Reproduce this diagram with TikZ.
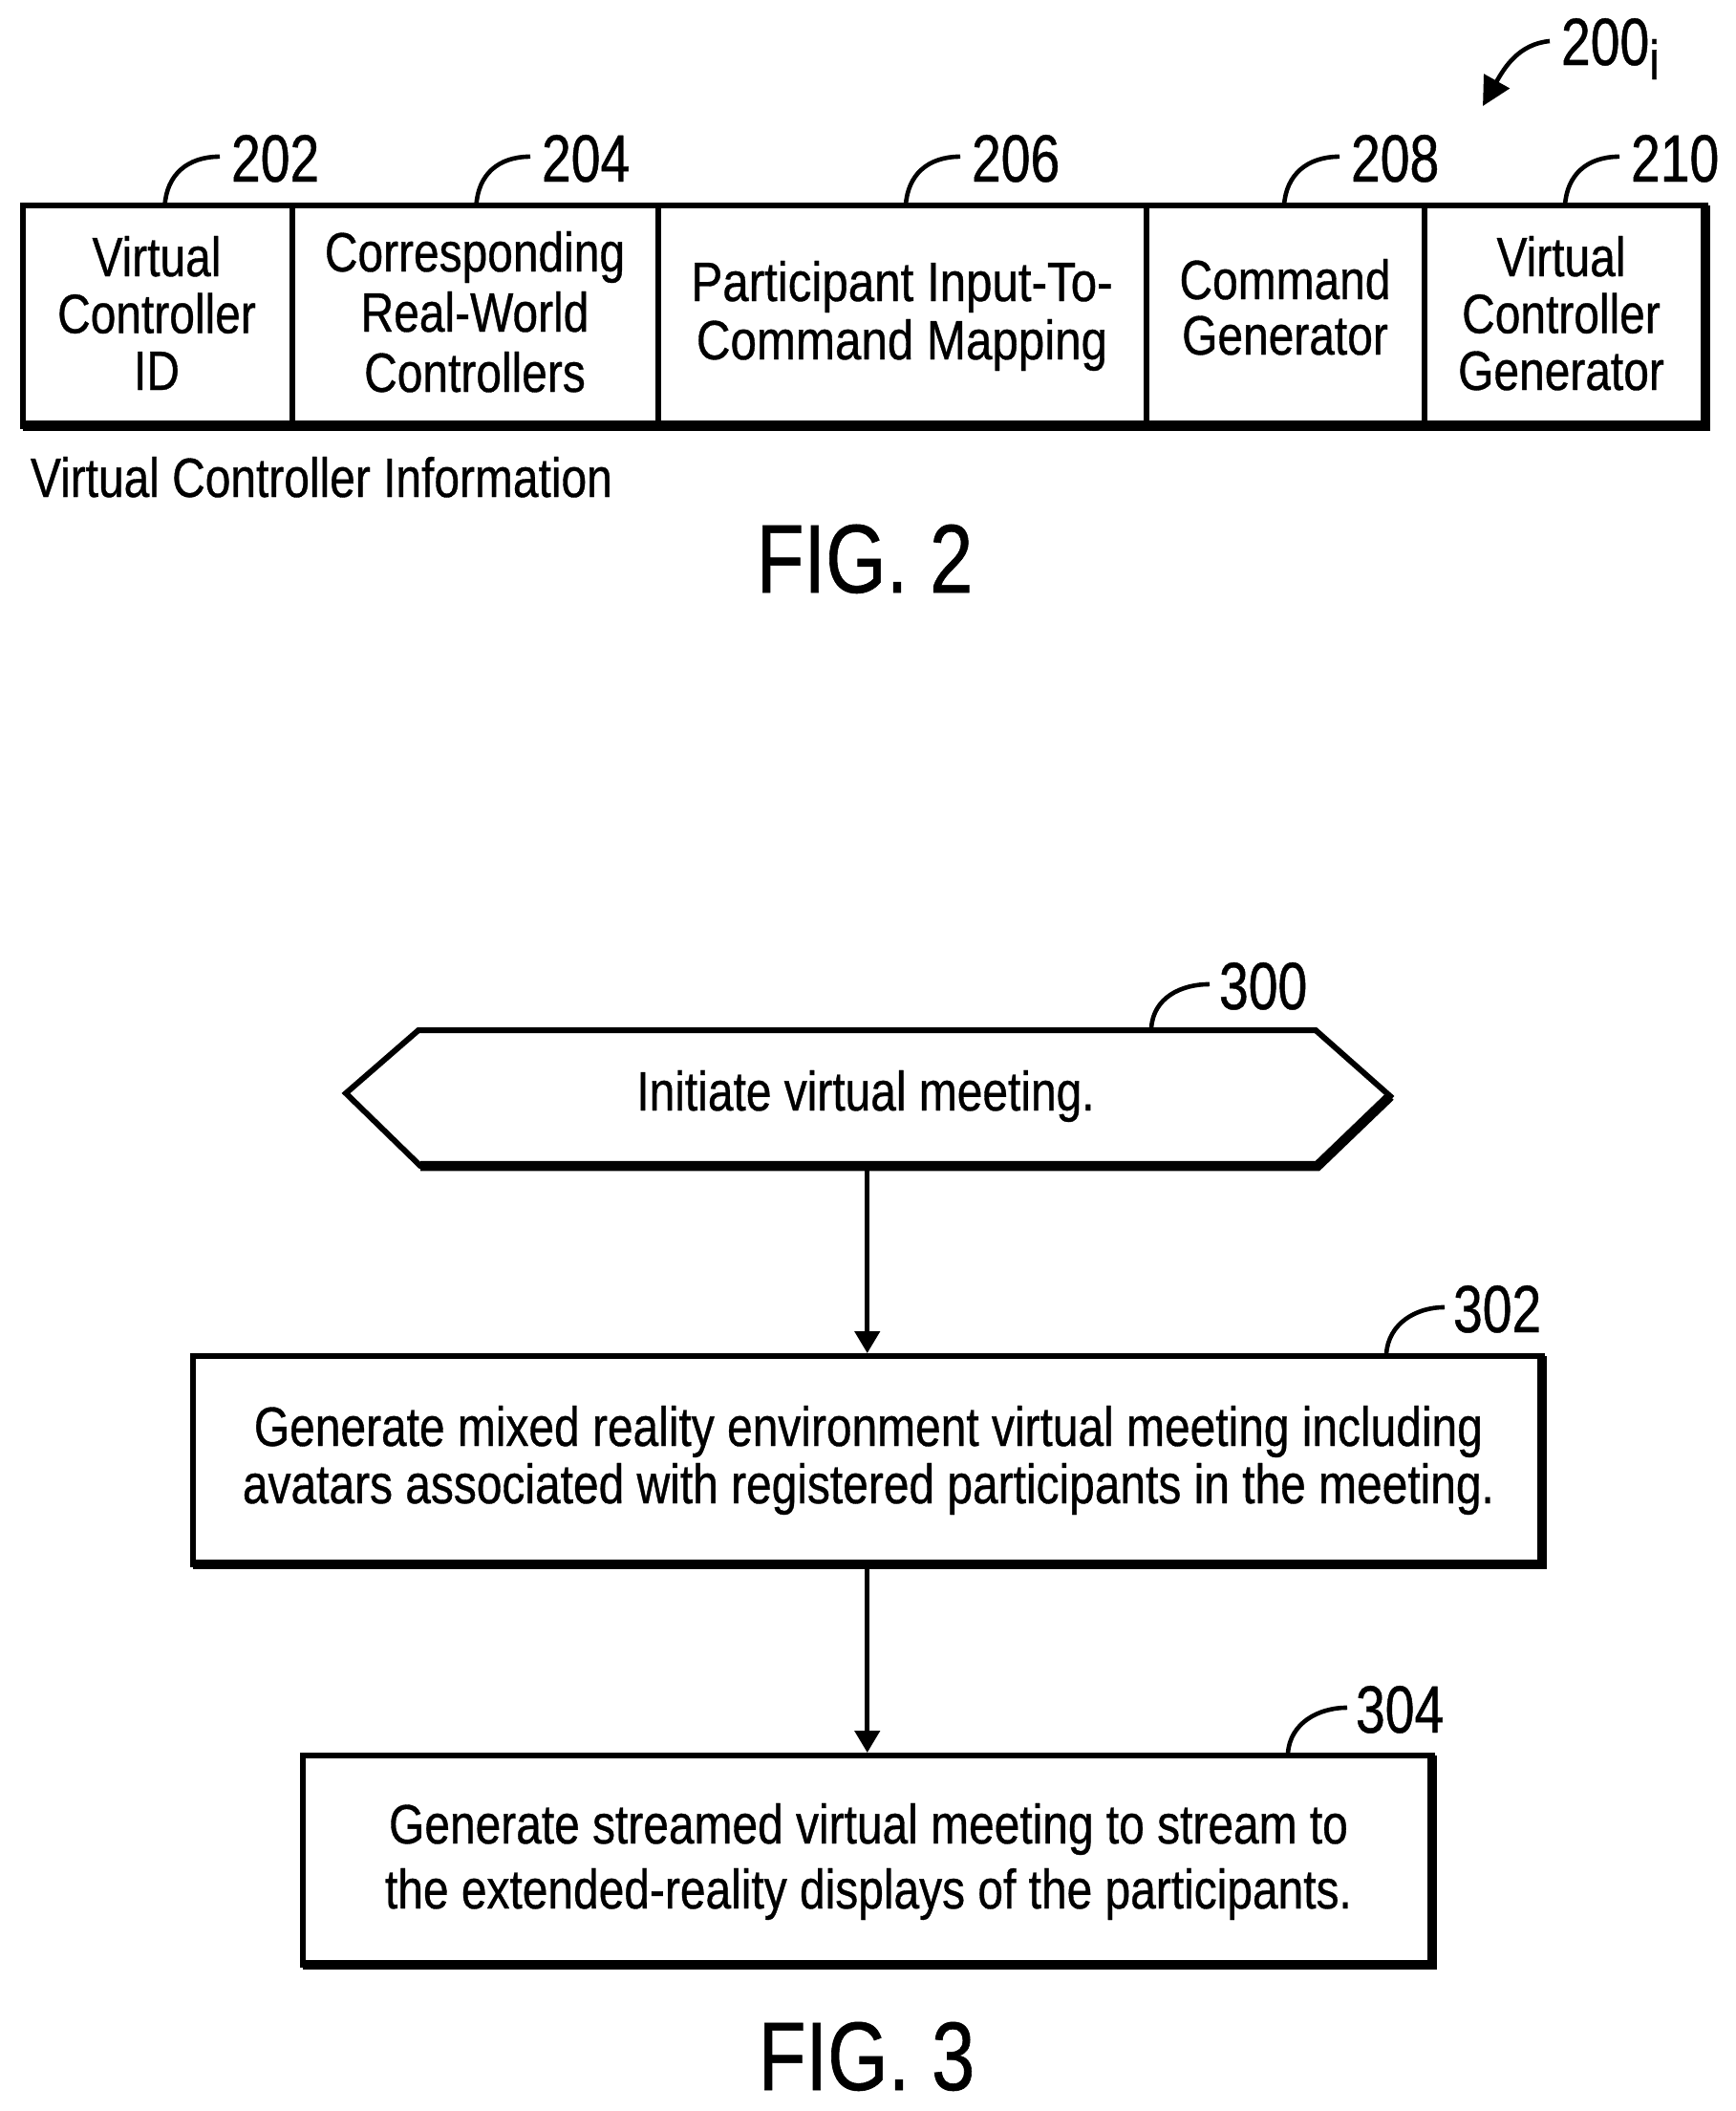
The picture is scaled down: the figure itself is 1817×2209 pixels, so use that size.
\documentclass[tikz,border=0pt]{standalone}
\usepackage{fontspec}
\usetikzlibrary{arrows.meta,calc}
\newfontfamily\bodyfam[FakeStretch=0.826,FakeBold=0.6]{Liberation Sans}
\newfontfamily\widefam[FakeStretch=0.85,FakeBold=0.6]{Liberation Sans}
\newfontfamily\numfam[FakeStretch=0.79,FakeBold=0.6]{Liberation Sans}
\newfontfamily\figfam[FakeStretch=0.80,FakeBold=0.6]{Liberation Sans}
\newcommand{\leaderline}[3]{\draw[leaderstyle] ($(#1.north west)+(#2,0)$) .. controls +(2,-32) and +(-34,0) .. ($(#3.west)+(-12,-2)$);}
\tikzset{
  cellbox/.style={draw=black,line width=6pt,inner sep=0pt,outer sep=0pt,fill=white},
  heavyedge/.style={draw=black,line width=10.5pt,line cap=butt,line join=miter},
  leaderstyle/.style={draw=black,line width=4.6pt},
  flowarrow/.style={draw=black,line width=4.6pt,-{Triangle[length=23pt,width=26pt]},shorten >=3pt},
  bodytext/.style={inner sep=0pt,outer sep=0pt,anchor=base,align=center,font=\bodyfam\fontsize{58}{#1}\selectfont},
  bodytext/.default=60,
  widetext/.style={inner sep=0pt,outer sep=0pt,anchor=base,align=center,font=\widefam\fontsize{58}{#1}\selectfont},
  numtext/.style={inner sep=0pt,outer sep=0pt,anchor=base west,font=\numfam\fontsize{70}{72}\selectfont},
  figtext/.style={inner sep=0pt,outer sep=0pt,anchor=base,font=\figfam\fontsize{102}{104}\selectfont},
}
\begin{document}
\begin{tikzpicture}[x=1pt,y=-1pt]
\useasboundingbox (0,0) rectangle (1817,2209);
\fill[white] (0,0) rectangle (1817,2209);
% FIG 2 cells
\node[cellbox,minimum width=282.5pt,minimum height=230.5pt] (c202) at (164.75,330.25) {};
\node[cellbox,minimum width=383pt,minimum height=230.5pt] (c204) at (497.5,330.25) {};
\node[cellbox,minimum width=511pt,minimum height=230.5pt] (c206) at (944.5,330.25) {};
\node[cellbox,minimum width=291pt,minimum height=230.5pt] (c208) at (1345.5,330.25) {};
\node[cellbox,minimum width=294pt,minimum height=230.5pt] (c210) at (1638,330.25) {};
\draw[heavyedge] (c210.north east) -- (c210.south east) -- (c202.south west);
\node[bodytext=59.5] (t202) at (164,408) {Virtual\\Controller\\ID};
\node[bodytext=63] (t204) at (497,410) {Corresponding\\Real-World\\Controllers};
\node[widetext=61] (t206) at (944,376) {Participant Input-To-\\Command Mapping};
\node[bodytext=58] (t208) at (1345,371) {Command\\Generator};
\node[bodytext=59.5] (t210) at (1634,408) {Virtual\\Controller\\Generator};
\node[numtext] (n202) at (242,190) {202};
\node[numtext] (n204) at (567,190) {204};
\node[numtext] (n206) at (1017,190) {206};
\node[numtext] (n208) at (1414,190) {208};
\node[numtext] (n210) at (1707,190) {210};
\leaderline{c202}{149}{n202}
\leaderline{c204}{192.5}{n204}
\leaderline{c206}{259}{n206}
\leaderline{c208}{144}{n208}
\leaderline{c210}{147}{n210}
\node[numtext] (n200) at (1634,68) {200\raisebox{-15pt}{\bodyfam\fontsize{58}{60}\selectfont i}};
\coordinate (tip200) at (1552,111);
\draw[draw=black,line width=4.6pt,-{Triangle[length=30pt,width=30pt]}] (1622,43) .. controls (1590,46) and (1575,70) .. (tip200);
\node[bodytext,anchor=base west] (vci) at (32,520) {Virtual Controller Information};
\node[figtext] (fig2) at (905,620) {FIG. 2};
% FIG 3
\node[inner sep=0pt,outer sep=0pt,minimum width=1102pt,minimum height=142pt] (hex) at (908,1149) {};
\draw[draw=black,line width=6pt,line join=miter,fill=white] (438,1078) -- (1377,1078) -- (1455,1147) -- (1379,1220) -- (440,1220) -- (362,1144) -- cycle;
\draw[draw=black,line width=10.5pt,line join=miter] (1455,1147) -- (1379,1220) -- (440,1220);
\node[bodytext] (t300) at (906,1162) {Initiate virtual meeting.};
\node[numtext] (n300) at (1276,1056) {300};
\coordinate (l300) at (1205,1076);
\draw[leaderstyle] (l300) .. controls +(2,-32) and +(-30,0) .. ($(n300.west)+(-10,-2)$);
\node[cellbox,minimum width=1412.5pt,minimum height=218pt] (b302) at (907.75,1528) {};
\draw[heavyedge] (b302.north east) -- (b302.south east) -- (b302.south west);
\node[bodytext=60] (t302) at (909,1573) {Generate mixed reality environment virtual meeting including\\avatars associated with registered participants in the meeting.};
\node[numtext] (n302) at (1521,1394) {302};
\coordinate (l302) at (1451,1417);
\draw[leaderstyle] (l302) .. controls +(2,-32) and +(-30,0) .. ($(n302.west)+(-9,-2)$);
\node[cellbox,minimum width=1182.5pt,minimum height=219pt] (b304) at (907.75,1946.5) {};
\draw[heavyedge] (b304.north east) -- (b304.south east) -- (b304.south west);
\node[bodytext=68] (t304) at (909,1997) {Generate streamed virtual meeting to stream to\\the extended-reality displays of the participants.};
\node[numtext] (n304) at (1419,1813) {304};
\coordinate (l304) at (1348,1835);
\draw[leaderstyle] (l304) .. controls +(2,-32) and +(-30,0) .. ($(n304.west)+(-9,-2)$);
\draw[flowarrow] (hex.south -| b302.north) -- (b302.north);
\draw[flowarrow] (b302.south) -- (b304.north);
\node[figtext] (fig3) at (907,2187) {FIG. 3};
\end{tikzpicture}
\end{document}
